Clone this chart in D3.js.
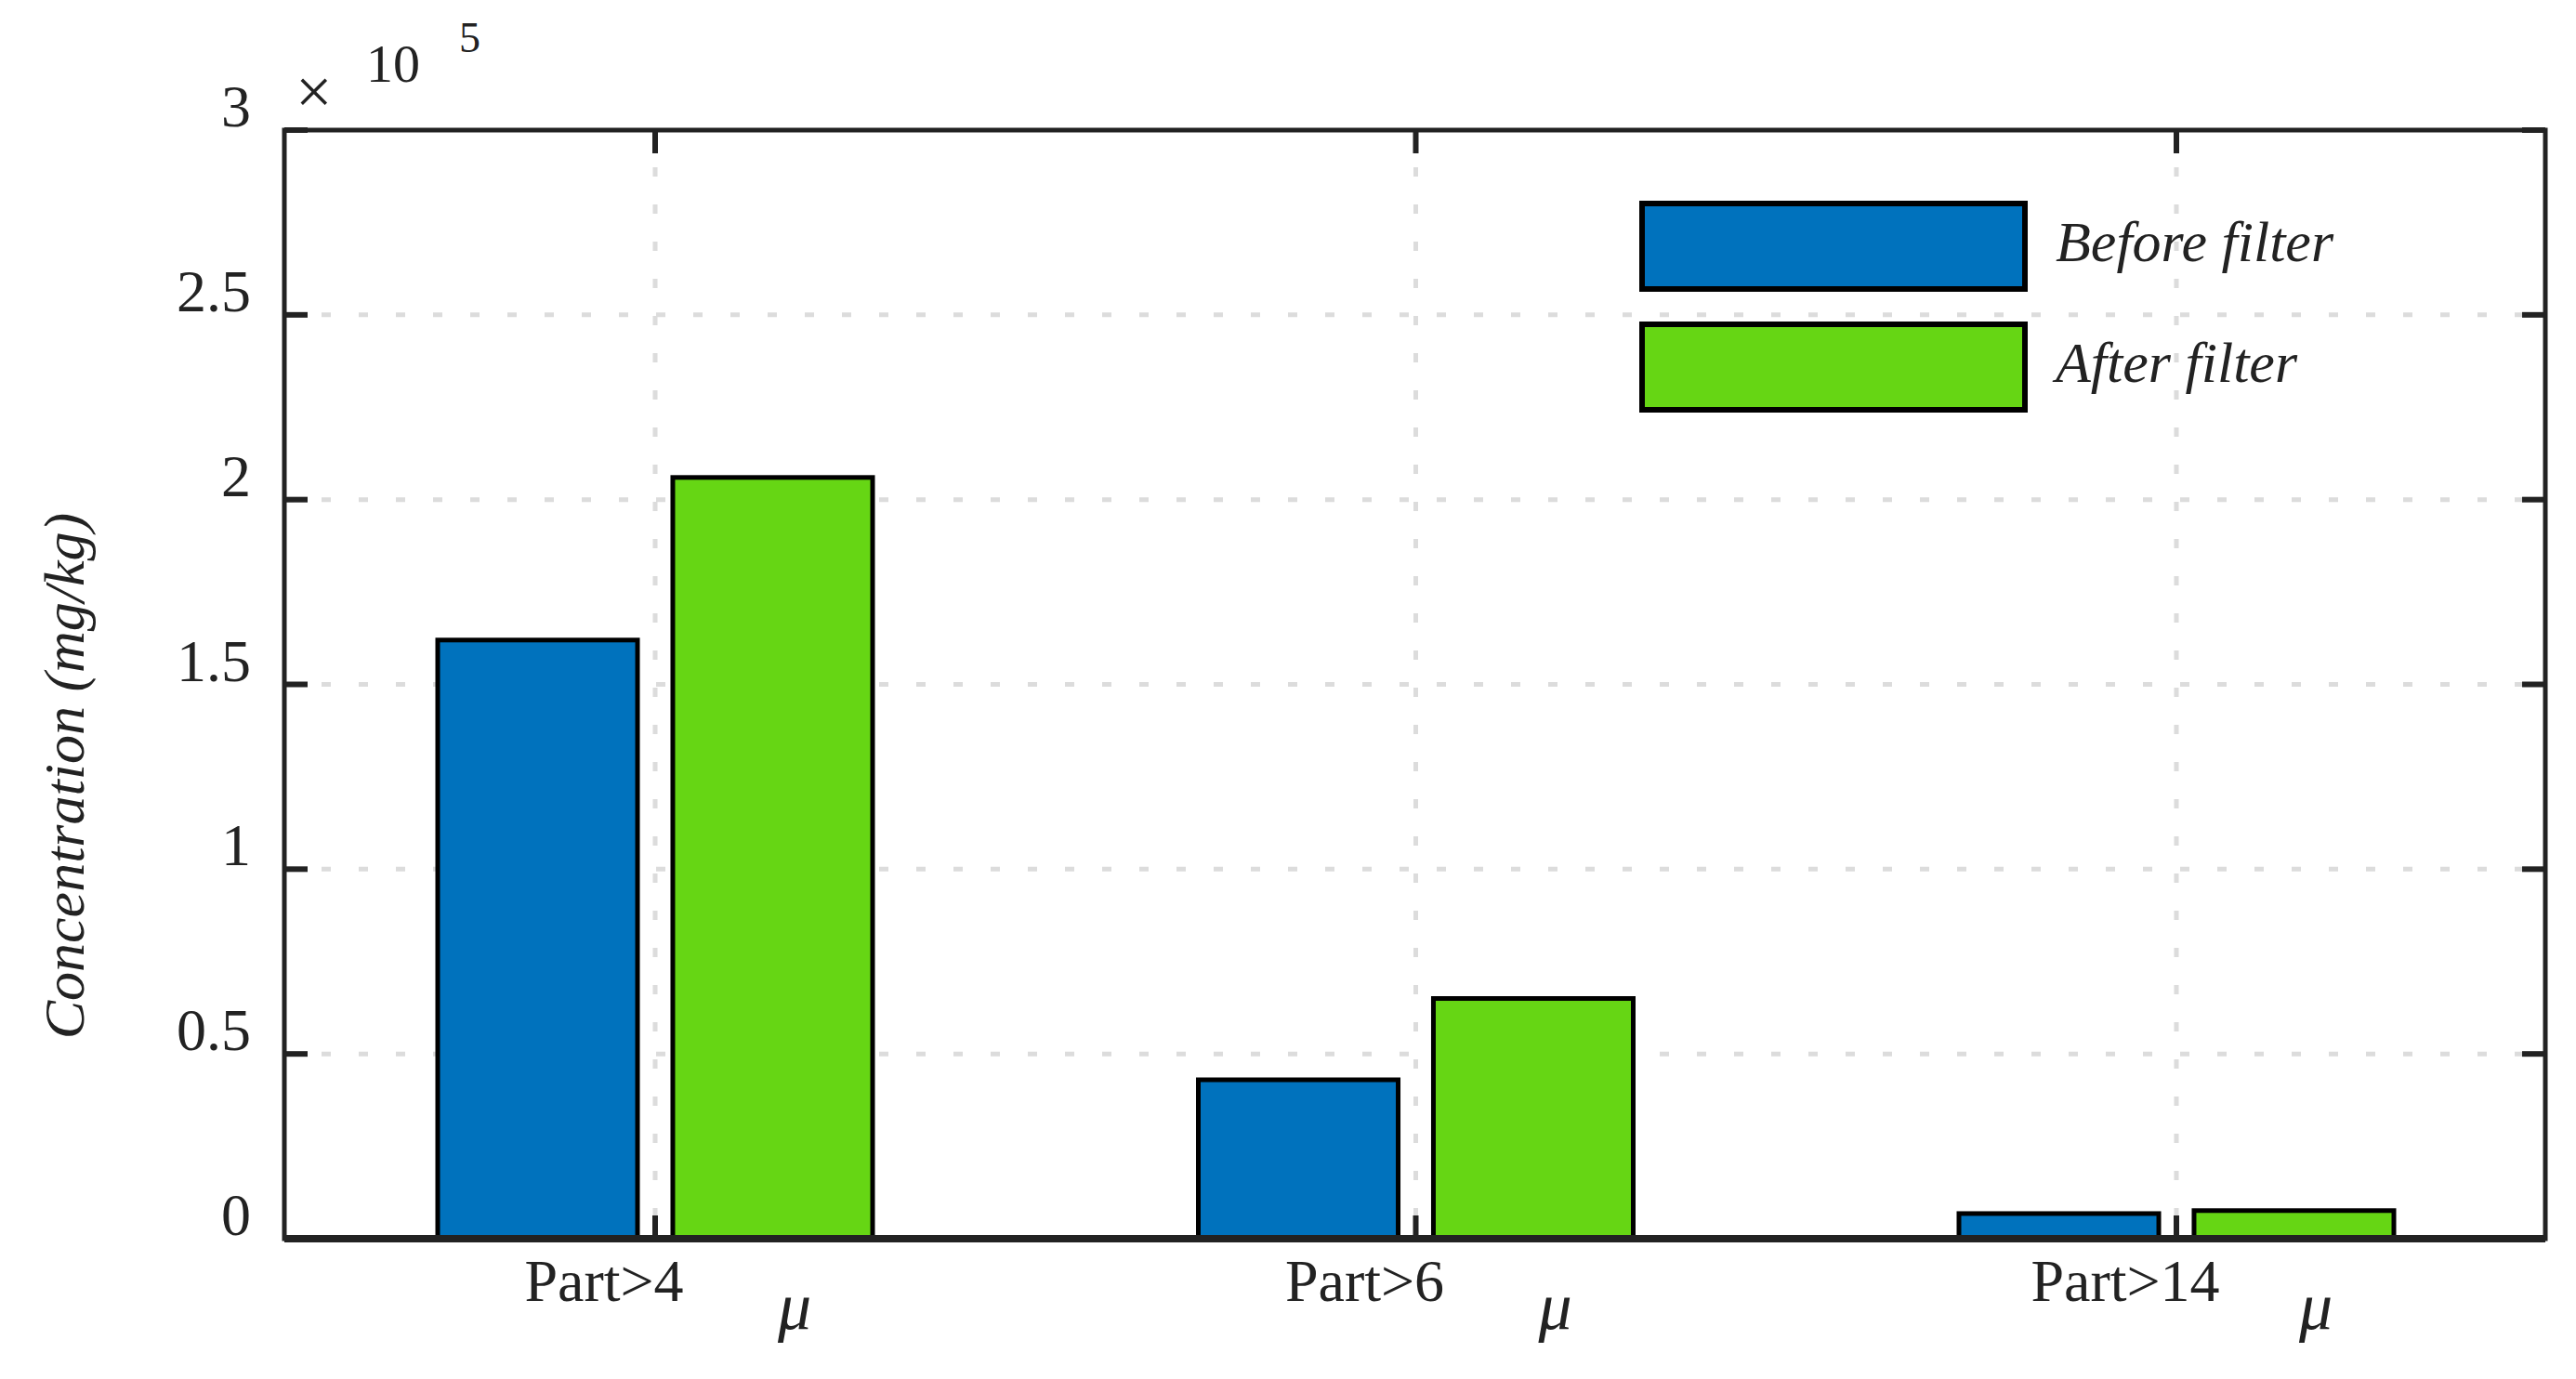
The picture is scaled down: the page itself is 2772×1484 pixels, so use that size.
<!DOCTYPE html>
<html>
<head>
<meta charset="utf-8">
<script src="https://cdn.jsdelivr.net/npm/d3@7"></script>
<style>
  body { margin: 0; background: #fff; }
  text { font-family: "Liberation Serif", "DejaVu Serif", serif; fill: #222; }
</style>
</head>
<body>
<svg id="chart" width="2772" height="1484"></svg>
<script>
// chart data
const categories = ["Part>4", "Part>6", "Part>14"];
const seriesNames = ["Before filter", "After filter"];
const beforeValues = [162000, 43000, 6800];
const afterValues = [206000, 65000, 7600];
const yTicks = [0, 0.5, 1, 1.5, 2, 2.5, 3];
const colors = ["#0072bd", "#66d614"];

const svg = d3.select("#chart");
const plotL = 306, plotR = 2739, plotT = 140, plotB = 1333;

// x positions of groups
let x = d3.scalePoint().domain(categories).range([705, 2342]);
let y = d3.scaleLinear().domain([0, 300000]).range([plotB, plotT]);
let sub = d3.scaleBand().domain(seriesNames).range([-234, 234]).paddingInner(0.15);

// grid lines, dotted
const grid = svg.append("g").attr("stroke", "#dcdcdc").attr("stroke-width", 5).attr("stroke-dasharray", "10,30");
yTicks.slice(1, -1).forEach(t => {
    grid.append("line").attr("x1", plotL).attr("x2", plotR).attr("y1", y(t * 1e5)).attr("y2", y(t * 1e5));
});
categories.forEach(c => {
    grid.append("line").attr("x1", x(c)).attr("x2", x(c)).attr("y1", plotT).attr("y2", plotB);
});

// bars
const allValues = [beforeValues, afterValues];
seriesNames.forEach((s, i) => {
    svg.append("g").selectAll("rect").data(categories).join("rect")
        .attr("x", c => x(c) + sub(s))
        .attr("width", sub.bandwidth())
        .attr("y", (c, j) => y(allValues[i][j]))
        .attr("height", (c, j) => plotB - y(allValues[i][j]))
        .attr("fill", colors[i])
        .attr("stroke", "#000")
        .attr("stroke-width", 5);
});

// box and ticks
svg.append("rect").attr("x", plotL).attr("y", plotT).attr("width", plotR - plotL).attr("height", plotB - plotT)
    .attr("fill", "none").attr("stroke", "#222").attr("stroke-width", 5);
svg.append("line").attr("x1", plotL).attr("x2", plotR).attr("y1", plotB).attr("y2", plotB)
    .attr("stroke", "#222").attr("stroke-width", 8);
const ticks = svg.append("g").attr("stroke", "#222").attr("stroke-width", 6);
yTicks.forEach(t => {
    ticks.append("line").attr("x1", plotL).attr("x2", plotL + 25).attr("y1", y(t * 1e5)).attr("y2", y(t * 1e5));
    ticks.append("line").attr("x1", plotR).attr("x2", plotR - 25).attr("y1", y(t * 1e5)).attr("y2", y(t * 1e5));
});
categories.forEach(c => {
    ticks.append("line").attr("x1", x(c)).attr("x2", x(c)).attr("y1", plotT).attr("y2", plotT + 25);
    ticks.append("line").attr("x1", x(c)).attr("x2", x(c)).attr("y1", plotB).attr("y2", plotB - 25);
});

// y tick labels
svg.append("g").selectAll("text").data(yTicks).join("text")
    .attr("x", plotL - 36).attr("y", d => y(d * 1e5) - 4)
    .attr("text-anchor", "end").attr("font-size", 64)
    .text(d => d);

// x tick labels with the odd mu below
categories.forEach(c => {
    svg.append("text").attr("x", x(c) - 55).attr("y", 1400)
        .attr("text-anchor", "middle").attr("font-size", 64).text(c);
    svg.append("text").attr("x", x(c) + 150).attr("y", 1430)
        .attr("text-anchor", "middle").attr("font-size", 72).attr("font-style", "italic").text("μ");
});

// exponent
svg.append("text").attr("x", 318).attr("y", 122).attr("font-size", 70).text("×");
svg.append("text").attr("x", 394).attr("y", 88).attr("font-size", 58).text("10");
svg.append("text").attr("x", 494).attr("y", 56).attr("font-size", 46).text("5");

// y axis title
svg.append("text")
    .attr("transform", "translate(90,835) rotate(-90)")
    .attr("text-anchor", "middle").attr("font-size", 62).attr("font-style", "italic")
    .text("Concentration (mg/kg)");

// legend
const legend = svg.append("g");
seriesNames.forEach((s, i) => {
    legend.append("rect").attr("x", 1767).attr("y", 219 + i * 130).attr("width", 412).attr("height", 92)
        .attr("fill", colors[i]).attr("stroke", "#000").attr("stroke-width", 6);
    legend.append("text").attr("x", 2212).attr("y", 281 + i * 130)
        .attr("font-size", 62).attr("font-style", "italic").text(s);
});
</script>
</body>
</html>
